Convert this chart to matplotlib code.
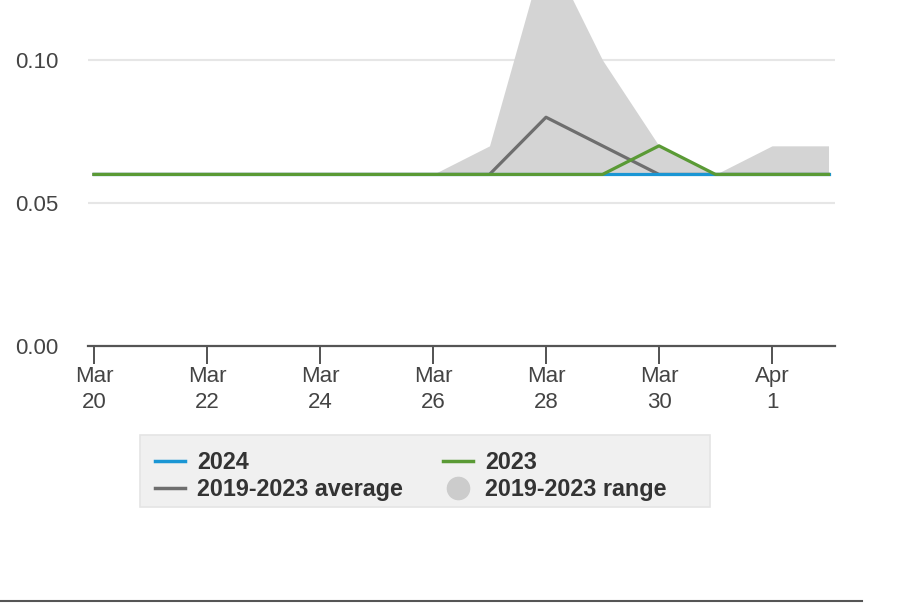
import matplotlib.pyplot as plt
from matplotlib.lines import Line2D
from matplotlib.patches import Rectangle
import numpy as np

plt.rcParams['font.family'] = ['Liberation Sans', 'DejaVu Sans']

# data: daily values Mar 20 .. Apr 2
days = ['Mar 20', 'Mar 21', 'Mar 22', 'Mar 23', 'Mar 24', 'Mar 25', 'Mar 26',
        'Mar 27', 'Mar 28', 'Mar 29', 'Mar 30', 'Mar 31', 'Apr 1', 'Apr 2']
range_low = [0.06, 0.06, 0.06, 0.06, 0.06, 0.06, 0.06,
             0.06, 0.06, 0.06, 0.06, 0.06, 0.06, 0.06]
range_high = [0.06, 0.06, 0.06, 0.06, 0.06, 0.06, 0.06,
              0.07, 0.14, 0.10, 0.07, 0.06, 0.07, 0.07]
avg_5yr = [0.06, 0.06, 0.06, 0.06, 0.06, 0.06, 0.06,
           0.06, 0.08, 0.07, 0.06, 0.06, 0.06, 0.06]
y2023 = [0.06, 0.06, 0.06, 0.06, 0.06, 0.06, 0.06,
         0.06, 0.06, 0.06, 0.07, 0.06, 0.06, 0.06]
y2024 = [0.06, 0.06, 0.06, 0.06, 0.06, 0.06, 0.06,
         0.06, 0.06, 0.06, 0.06, 0.06, 0.06, 0.06]
tick_labels = ['Mar\n20', 'Mar\n22', 'Mar\n24', 'Mar\n26', 'Mar\n28', 'Mar\n30', 'Apr\n1']

c_blue = '#1a96d4'
c_green = '#5a9a35'
c_gray = '#6e6e6e'
c_range = '#d4d4d4'
c_text = '#333333'

W, H = 902, 605
fig = plt.figure(figsize=(W / 100, H / 100), dpi=100)
ax = fig.add_axes([88 / W, 1 - 346 / H, (835 - 88) / W, 346 / H])

x = np.arange(len(days))
ax.fill_between(x, range_low, range_high, color=c_range, lw=0, zorder=1)
ax.plot(x, avg_5yr, color=c_gray, lw=2.3, zorder=3)
ax.plot(x, y2024, color=c_blue, lw=2.3, zorder=4)
ax.plot(x, y2023, color=c_green, lw=2.3, zorder=5)

ax.set_xlim(-0.106, 13.115)
ax.set_ylim(0, 0.121)
ax.set_yticks([0.0, 0.05, 0.10])
ax.set_yticklabels(['0.00', '0.05', '0.10'])
ax.set_xticks(x[::2][:7])
ax.set_xticklabels(tick_labels, linespacing=1.32)

for g in [0.05, 0.10]:
    ax.axhline(g, color='#e6e6e6', lw=1.5, zorder=0)

for s in ['top', 'right', 'left']:
    ax.spines[s].set_visible(False)
ax.spines['bottom'].set_color('#555555')
ax.spines['bottom'].set_linewidth(1.6)
ax.spines['bottom'].set_zorder(6)

ax.tick_params(axis='y', length=0, pad=21, labelsize=16, labelcolor='#444444')
ax.tick_params(axis='x', length=13, width=1.3, color='#444444', pad=1.5,
               labelsize=16, labelcolor='#444444')

# legend box
fig.add_artist(Rectangle((140 / W, 1 - 507 / H), 570 / W, 72 / H,
                         transform=fig.transFigure, facecolor='#f0f0f0',
                         edgecolor='#e4e4e4', lw=1.2))

handles = [
    Line2D([], [], color=c_blue, lw=2.5),
    Line2D([], [], color=c_gray, lw=2.5),
    Line2D([], [], color=c_green, lw=2.5),
    Line2D([], [], color='#cccccc', marker='o', ls='none', markersize=16),
]
labels = ['2024', '2019-2023 average', '2023', '2019-2023 range']
leg = fig.legend(handles, labels, ncol=2, loc='upper left',
                 bbox_to_anchor=(155 / W, 1 - 451 / H), frameon=False,
                 prop={'weight': 'bold', 'size': 16.8}, handlelength=1.29,
                 handletextpad=0.51, columnspacing=1.71, labelspacing=0.17,
                 borderpad=0, borderaxespad=0)
for t in leg.get_texts():
    t.set_color(c_text)

# bottom rule
fig.add_artist(Line2D([0, 862 / W], [4 / H, 4 / H], color='#555555', lw=1.5))

fig.savefig('out.png', dpi=100)
